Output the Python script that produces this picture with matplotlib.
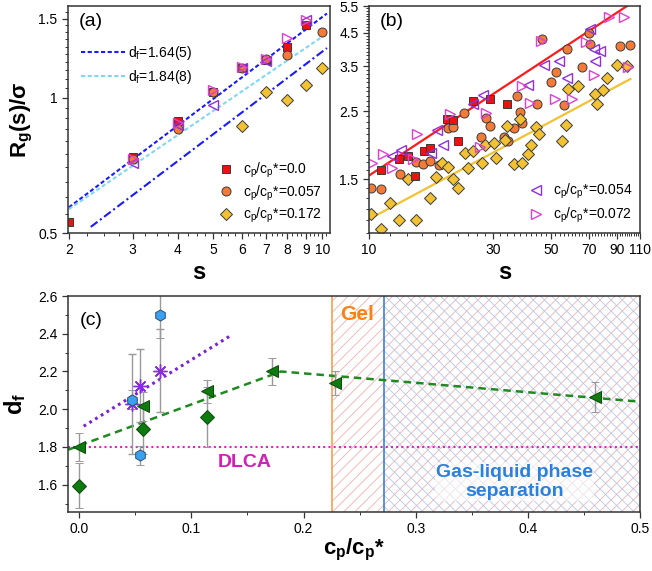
import numpy as np
import matplotlib.pyplot as plt
from matplotlib.ticker import FixedLocator, FixedFormatter, NullFormatter

plt.rcParams['font.family'] = ['Liberation Sans', 'DejaVu Sans']
plt.rcParams['mathtext.default'] = 'regular'
plt.rcParams['hatch.linewidth'] = 0.6

# ---------------- panel (a): Rg(s) for small s ----------------
a_s_000 = [2, 3, 4, 5, 6, 7, 8, 9]
a_rg_000 = [0.53, 0.74, 0.89, 1.03, 1.165, 1.215, 1.30, 1.455]
a_s_057 = [3, 4, 5, 6, 7, 8, 10]
a_rg_057 = [0.73, 0.85, 1.03, 1.165, 1.22, 1.245, 1.40]
a_s_172 = [6, 7, 8, 9, 10]
a_rg_172 = [0.865, 1.03, 0.99, 1.07, 1.165]
a_s_054 = [3, 4, 5, 6, 7, 9]
a_rg_054 = [0.715, 0.87, 0.965, 1.165, 1.21, 1.49]
a_s_072 = [3, 4, 5, 6, 7, 8, 9]
a_rg_072 = [0.73, 0.88, 1.04, 1.17, 1.22, 1.36, 1.49]

fit164_s = [2.0, 10.3]
fit164_rg = [0.57, 1.54]
fit184_s = [2.0, 10.3]
fit184_rg = [0.565, 1.39]
fit_dd_s = [2.3, 10.3]
fit_dd_rg = [0.516, 1.29]

# ---------------- panel (b): Rg(s) for large s ----------------
b_s_000 = [11.1, 13.05, 14.1, 15.0, 16.2, 17.1, 20.0, 21.1, 22.0, 25.0, 29.2, 33.9]
b_rg_000 = [1.60, 1.745, 1.785, 1.53, 1.845, 1.89, 2.35, 2.34, 2.0, 2.70, 2.73, 2.63]
b_s_057 = [10.15, 11.1, 13.1, 15.1, 16.1, 17.1, 18.5, 20.1, 21.1, 23.1, 27.0, 28.2,
           29.2, 33.0, 34.2, 36.0, 37.1, 38.0, 38.8, 44.1, 46.3, 49.9, 52.2, 56.0,
           57.4, 65.9, 70.1, 70.7, 92.3, 100.5]
b_rg_057 = [1.405, 1.39, 1.555, 1.71, 1.68, 1.72, 1.667, 2.20, 2.21, 2.47, 2.06, 2.37,
            2.23, 2.05, 2.0, 2.2, 2.79, 2.49, 2.28, 2.64, 4.30, 3.12, 3.36, 2.62,
            3.98, 3.48, 4.48, 4.13, 4.07, 4.09]
b_s_172 = [10.15, 11.1, 12.05, 13.05, 14.1, 15.1, 17.1, 18.1, 19.1, 20.2, 21.1, 22.0,
           23.3, 24.1, 25.0, 27.1, 27.9, 30.1, 30.8, 33.2, 33.8, 36.0, 38.0, 38.8,
           40.9, 42.0, 43.7, 45.0, 55.4, 57.0, 58.2, 63.8, 73.9, 75.1, 79.6, 82.5,
           89.4, 98.0]
b_rg_172 = [1.15, 1.03, 1.25, 1.10, 1.50, 1.10, 1.30, 1.52, 1.69, 1.646, 1.505, 1.40,
            1.83, 1.626, 1.85, 1.69, 1.94, 1.96, 1.754, 2.01, 2.24, 1.676, 2.35, 1.69,
            1.81, 1.93, 2.21, 2.10, 2.0, 2.25, 2.94, 3.02, 2.84, 2.63, 2.92, 3.21,
            3.52, 3.50]
b_s_054 = [12.3, 13.3, 17.3, 18.2, 19.2, 25.2, 27.3, 40.8, 46.9, 53.8, 57.9, 70.9,
           73.0, 77.5, 74.0]
b_rg_054 = [1.79, 1.86, 1.82, 2.16, 1.94, 2.64, 2.83, 3.03, 3.52, 3.65, 3.21, 4.62,
            3.99, 3.91, 3.64]
b_s_072 = [10.3, 11.3, 12.2, 14.75, 15.3, 20.4, 26.6, 28.2, 38.6, 41.5, 45.8, 51.8,
           60.5, 68.1, 72.9, 83.7, 95.1, 98.6]
b_rg_072 = [1.69, 1.81, 1.63, 1.75, 2.11, 2.45, 1.91, 2.47, 3.02, 2.65, 4.23, 2.74,
            2.74, 4.19, 3.28, 5.06, 5.07, 3.47]

fit_red_s = [10.0, 98.0]
fit_red_rg = [1.54, 5.5]
fit_yel_s = [10.0, 101.0]
fit_yel_rg = [1.11, 3.18]

# ---------------- panel (c): fractal dimension ----------------
c_x_dia = [0.0, 0.057, 0.114]
c_y_dia = [1.595, 1.895, 1.96]
c_e_dia = [0.12, 0.135, 0.16]
c_x_tri = [0.0, 0.057, 0.114, 0.172, 0.228, 0.46]
c_y_tri = [1.80, 2.015, 2.095, 2.20, 2.14, 2.065]
c_e_tri = [0.075, 0.075, 0.06, 0.07, 0.065, 0.08]
c_x_hex = [0.047, 0.054, 0.072]
c_y_hex = [2.05, 1.755, 2.50]
c_e_hex = [0.05, 0.05, 0.12]
c_x_star = [0.047, 0.054, 0.072]
c_y_star = [2.03, 2.125, 2.205]
c_e_star = [0.265, 0.195, 0.22]

trend_green_x = [-0.01, 0.18, 0.5]
trend_green_y = [1.785, 2.20, 2.04]
trend_purple_x = [0.004, 0.135]
trend_purple_y = [1.91, 2.39]
dlca_df = 1.8
gel_onset = 0.225
phase_sep_onset = 0.272

EDGE = '#3a3a3a'
SPINE = '#333333'


def style_axes(ax):
    for sp in ax.spines.values():
        sp.set_linewidth(1.1)
        sp.set_color(SPINE)
    ax.tick_params(which='both', direction='out', top=False, right=False,
                   color=SPINE, labelsize=10, width=0.9)
    ax.tick_params(which='major', length=4)
    ax.tick_params(which='minor', length=2, width=0.7)


fig = plt.figure(figsize=(6.52, 5.71), dpi=100)

# ---- (a)
ax = fig.add_axes([0.1043, 0.5919, 0.4018, 0.3975])
ax.set_xscale('log')
ax.set_yscale('log')
ax.plot(fit164_s, fit164_rg, color='#1a1aff', lw=1.5, ls=(0, (2, 1.2)), label='d$_f$=1.64(5)')
ax.plot(fit184_s, fit184_rg, color='#80d8f0', lw=1.5, ls=(0, (2, 1.2)), label='d$_f$=1.84(8)')
ax.plot(fit_dd_s, fit_dd_rg, color='#1a1aff', lw=1.5, ls=(0, (4, 1.5, 1, 1.5)))
ax.plot(a_s_000, a_rg_000, 's', ms=5.5, mfc='#ee1111', mec=EDGE, mew=0.7)
ax.plot(a_s_057, a_rg_057, 'o', ms=6.5, mfc='#f47a38', mec=EDGE, mew=0.7)
ax.plot(a_s_172, a_rg_172, 'D', ms=6, mfc='#f2c232', mec=EDGE, mew=0.7)
ax.plot(a_s_054, a_rg_054, '<', ms=7, mfc='none', mec='#9030d8', mew=1.0)
ax.plot(a_s_072, a_rg_072, '>', ms=7, mfc='none', mec='#e040d0', mew=1.0)
ax.set_xlim(1.99, 10.5)
ax.set_ylim(0.5, 1.6)
ax.xaxis.set_major_locator(FixedLocator([2, 3, 4, 5, 6, 7, 8, 9, 10]))
ax.xaxis.set_major_formatter(FixedFormatter(['2', '3', '4', '5', '6', '7', '8', '9', '10']))
ax.xaxis.set_minor_locator(FixedLocator([v for v in np.arange(2, 10.5, 0.25) if v % 1]))
ax.xaxis.set_minor_formatter(NullFormatter())
ax.yaxis.set_major_locator(FixedLocator([0.5, 1, 1.5]))
ax.yaxis.set_major_formatter(FixedFormatter(['0.5', '1', '1.5']))
ax.yaxis.set_minor_locator(FixedLocator(np.arange(0.55, 1.6, 0.05)))
ax.yaxis.set_minor_formatter(NullFormatter())
style_axes(ax)
ax.set_xlabel('s', fontsize=17, fontweight='bold')
ax.set_ylabel('R$_g$(s)/σ', fontsize=16, fontweight='bold')
ax.xaxis.set_label_coords(0.5, -0.125)
ax.yaxis.set_label_coords(-0.125, 0.5)
ax.text(0.04, 0.93, '(a)', transform=ax.transAxes, fontsize=14, va='center')
lines = ax.get_lines()
leg1 = ax.legend(handles=lines[:2], loc='upper left', bbox_to_anchor=(0.0, 0.89),
                 frameon=False, fontsize=10, handlelength=3.2, handletextpad=0.2,
                 labelspacing=0.45)
ax.add_artist(leg1)
mk = [plt.Line2D([], [], ls='none', marker='s', ms=5.5, mfc='#ee1111', mec=EDGE, mew=0.7),
      plt.Line2D([], [], ls='none', marker='o', ms=6.5, mfc='#f47a38', mec=EDGE, mew=0.7),
      plt.Line2D([], [], ls='none', marker='D', ms=6, mfc='#f2c232', mec=EDGE, mew=0.7)]
ax.legend(mk, ['c$_p$/c$_p$*=0.0', 'c$_p$/c$_p$*=0.057', 'c$_p$/c$_p$*=0.172'],
          loc='lower right', frameon=False, fontsize=10, handlelength=1.5,
          handletextpad=0.5, labelspacing=0.25, borderaxespad=0.15)

# ---- (b)
ax = fig.add_axes([0.5660, 0.5919, 0.4156, 0.3975])
ax.set_xscale('log')
ax.set_yscale('log')
ax.plot(fit_red_s, fit_red_rg, color='#ff1a1a', lw=1.6)
ax.plot(fit_yel_s, fit_yel_rg, color='#f2c232', lw=1.6)
ax.plot(b_s_057, b_rg_057, 'o', ms=6.5, mfc='#f47a38', mec=EDGE, mew=0.7)
ax.plot(b_s_172, b_rg_172, 'D', ms=6, mfc='#f2c232', mec=EDGE, mew=0.7)
ax.plot(b_s_000, b_rg_000, 's', ms=5.5, mfc='#ee1111', mec=EDGE, mew=0.7)
h54, = ax.plot(b_s_054, b_rg_054, '<', ms=7, mfc='none', mec='#9030d8', mew=1.0)
h72, = ax.plot(b_s_072, b_rg_072, '>', ms=7, mfc='none', mec='#e040d0', mew=1.0)
ax.set_xlim(10, 110)
ax.set_ylim(1.0, 5.5)
ax.xaxis.set_major_locator(FixedLocator([10, 30, 50, 70, 90, 110]))
ax.xaxis.set_major_formatter(FixedFormatter(['10', '30', '50', '70', '90', '110']))
ax.xaxis.set_minor_locator(FixedLocator([v for v in range(12, 110, 2) if v % 20 != 10]))
ax.xaxis.set_minor_formatter(NullFormatter())
ax.yaxis.set_major_locator(FixedLocator([1.5, 2.5, 3.5, 4.5, 5.5]))
ax.yaxis.set_major_formatter(FixedFormatter(['1.5', '2.5', '3.5', '4.5', '5.5']))
ax.yaxis.set_minor_locator(FixedLocator(np.arange(1.0, 5.5, 0.1)))
ax.yaxis.set_minor_formatter(NullFormatter())
style_axes(ax)
ax.set_xlabel('s', fontsize=17, fontweight='bold')
ax.xaxis.set_label_coords(0.5, -0.125)
ax.text(0.04, 0.93, '(b)', transform=ax.transAxes, fontsize=14, va='center')
ax.legend([h54, h72], ['c$_p$/c$_p$*=0.054', 'c$_p$/c$_p$*=0.072'],
          loc='lower right', frameon=False, fontsize=10, handlelength=1.5,
          handletextpad=0.5, labelspacing=0.35, borderaxespad=0.15)

# ---- (c)
ax = fig.add_axes([0.1043, 0.1033, 0.8773, 0.3783])
ax.axvspan(gel_onset, 0.5, facecolor='none', edgecolor='#f5b0b0', hatch='///', lw=0)
ax.axvspan(phase_sep_onset, 0.5, facecolor='none', edgecolor='#b0c8f0', hatch='\\\\\\', lw=0)
ax.axvline(gel_onset, color='#f5a050', lw=1.2)
ax.axvline(phase_sep_onset, color='#3a7fe0', lw=1.2)
ax.axhline(dlca_df, color='#e020c8', lw=1.5, ls=(0, (1, 1.5)))
ax.plot(trend_green_x, trend_green_y, color='#1f8a1f', lw=1.8, ls=(0, (3, 2)))
ax.plot(trend_purple_x, trend_purple_y, color='#7a1fd6', lw=2.2, ls=(0, (0.9, 1.3)))
eb = dict(ls='none', ecolor='#999999', elinewidth=1.0, capsize=3, capthick=0.9)
ax.errorbar(c_x_star, c_y_star, yerr=c_e_star, marker=(8, 2, 0), ms=10, mec='#8a2be2',
            mew=1.0, **eb)
ax.errorbar(c_x_dia, c_y_dia, yerr=c_e_dia, marker='D', ms=7, mfc='#0f7a10', mec='#0a4a0a',
            mew=0.7, **eb)
ax.errorbar(c_x_tri, c_y_tri, yerr=c_e_tri, marker='<', ms=8.5, mfc='#0f7a10', mec='#0a4a0a',
            mew=0.7, **eb)
ax.errorbar(c_x_hex, c_y_hex, yerr=c_e_hex, marker='h', ms=8, mfc='#3aa0f0', mec='#2f4f6f',
            mew=0.7, **eb)
ax.set_xlim(-0.01, 0.5)
ax.set_ylim(1.455, 2.6)
ax.set_xticks([0.0, 0.1, 0.2, 0.3, 0.4, 0.5])
ax.set_xticklabels(['0.0', '0.1', '0.2', '0.3', '0.4', '0.5'])
ax.xaxis.set_minor_locator(FixedLocator([0.05, 0.15, 0.25, 0.35, 0.45]))
ax.set_yticks([1.6, 1.8, 2.0, 2.2, 2.4, 2.6])
ax.set_yticklabels(['1.6', '1.8', '2.0', '2.2', '2.4', '2.6'])
ax.yaxis.set_minor_locator(FixedLocator([1.5, 1.7, 1.9, 2.1, 2.3, 2.5]))
style_axes(ax)
ax.set_xlabel('c$_p$/c$_p$*', fontsize=16, fontweight='bold')
ax.set_ylabel('d$_f$', fontsize=17, fontweight='bold')
ax.xaxis.set_label_coords(0.5, -0.115)
ax.yaxis.set_label_coords(-0.07, 0.5)
ax.text(0.02, 0.885, '(c)', transform=ax.transAxes, fontsize=14, va='center')
ax.text(0.248, 2.5, 'Gel', color='#ff8010', fontsize=15, fontweight='bold',
        ha='center', va='center')
ax.text(0.148, 1.717, 'DLCA', color='#d020b8', fontsize=14, fontweight='bold',
        ha='center', va='center')
ax.text(0.388, 1.615, 'Gas-liquid phase\nseparation', color='#2a80e0', fontsize=14,
        fontweight='bold', ha='center', va='center', linespacing=1.2,
        bbox=dict(facecolor='white', edgecolor='none', alpha=0.6, pad=1))

fig.savefig('out.png', dpi=100)
